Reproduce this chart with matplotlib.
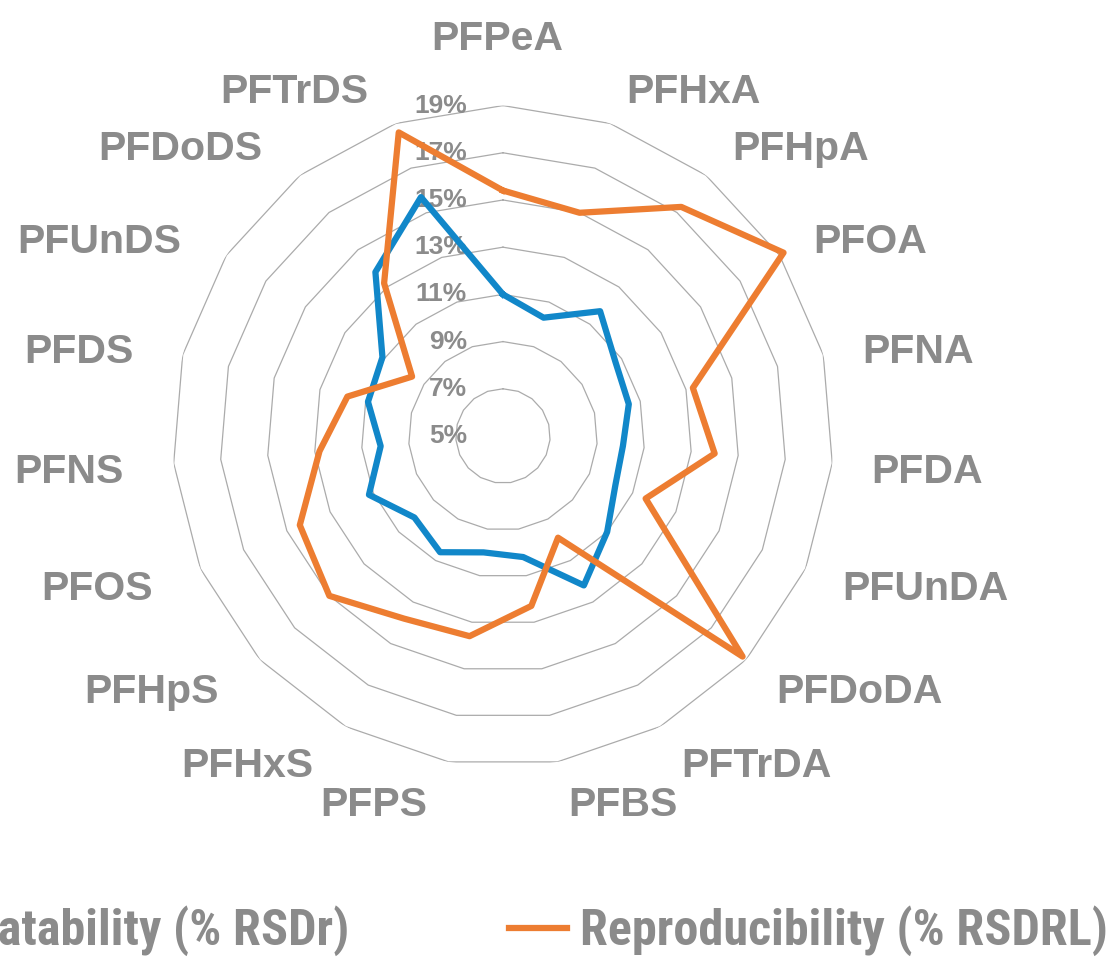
import numpy as np
import matplotlib.pyplot as plt
from matplotlib import font_manager, transforms

# Données (% RSD)
categories = ['PFPeA', 'PFHxA', 'PFHpA', 'PFOA', 'PFNA', 'PFDA', 'PFUnDA', 'PFDoDA',
              'PFTrDA', 'PFBS', 'PFPS', 'PFHxS', 'PFHpS', 'PFOS', 'PFNS', 'PFDS',
              'PFUnDS', 'PFDoDS', 'PFTrDS']
repeatability = [11.0, 10.3, 11.7, 10.7, 10.5, 10.1, 10.2, 11.0, 12.2, 10.2,
                 10.0, 10.6, 10.1, 11.2, 10.2, 10.9, 11.1, 13.8, 15.7]
reproducibility = [15.4, 15.0, 17.3, 19.2, 13.3, 14.0, 11.6, 18.8, 9.9, 12.3,
                   13.6, 13.8, 15.0, 14.4, 12.8, 11.8, 9.6, 13.2, 18.6]
ring_values = [7, 9, 11, 13, 15, 17, 19]
tick_values = [5, 7, 9, 11, 13, 15, 17, 19]
tick_labels = ['5%', '7%', '9%', '11%', '13%', '15%', '17%', '19%']

gray = '#8b8b8b'
blue = '#1187c9'
orange = '#ed7d31'

plt.rcParams['font.family'] = ['Liberation Sans', 'DejaVu Sans']

# Police étroite pour la légende si disponible
legend_fp = None
bold_narrow = []
for f in font_manager.fontManager.ttflist:
    fn = f.fname.lower()
    if ('narrow' in fn or 'condensed' in fn) and str(f.weight) in ('700', 'bold') \
            and f.style == 'normal':
        bold_narrow.append(f)
for pref in ['Liberation Sans Narrow', 'Roboto Condensed', 'Open Sans Condensed',
             'Noto Sans', 'Roboto', 'Open Sans', 'DejaVu Sans']:
    hits = [f for f in bold_narrow if f.name == pref]
    if hits:
        legend_fp = font_manager.FontProperties(fname=hits[0].fname)
        break
if legend_fp is None and bold_narrow:
    legend_fp = font_manager.FontProperties(fname=bold_narrow[0].fname)
if legend_fp is None:
    legend_fp = font_manager.FontProperties(family='Liberation Sans', weight='bold')

n = len(categories)
theta = np.arange(n) * 2 * np.pi / n
theta_closed = np.append(theta, theta[0])

fig = plt.figure(figsize=(11.14, 9.58), dpi=100)
ax = fig.add_axes([0.1549, 0.2, 0.5932, 0.6898], projection='polar')
ax.set_theta_zero_location('N')
ax.set_theta_direction(-1)
ax.set_ylim(5, 19)
ax.set_xticks([])
ax.set_yticks([])
ax.grid(False)
ax.spines['polar'].set_visible(False)

# Grille polygonale
for v in ring_values:
    ax.plot(theta_closed, [v] * (n + 1), color='#ababab', lw=0.9, zorder=1)

# Séries
l1, = ax.plot(theta_closed, repeatability + repeatability[:1], color=blue, lw=4.5,
              zorder=3, clip_on=False, label='Repeatability (% RSDr)')
l2, = ax.plot(theta_closed, reproducibility + reproducibility[:1], color=orange, lw=4.5,
              zorder=4, clip_on=False, label='Reproducibility (% RSDRL)')

# Étiquettes de l'axe radial (sous les courbes)
offset = transforms.ScaledTranslation(-36 / 100, 0, fig.dpi_scale_trans)
for v, lab in zip(tick_values, tick_labels):
    ax.text(0, v, lab, transform=ax.transData + offset, ha='right', va='center',
            fontsize=19, fontweight='bold', color=gray, zorder=2)

# Étiquettes des catégories
label_r = 5 + 365 / 23.6
for th, name in zip(theta, categories):
    s, c = np.sin(th), np.cos(th)
    ha = 'left' if s > 0.05 else ('right' if s < -0.05 else 'center')
    va = 'bottom' if c > 0.6 else ('top' if c < -0.6 else 'center')
    dy = {'bottom': -20, 'top': 10, 'center': -6}[va]
    dx = {'left': 5, 'right': -16, 'center': -6}[ha]
    if ha == 'center':
        dy = 13
    tr = ax.transData + transforms.ScaledTranslation(dx / 100, dy / 100, fig.dpi_scale_trans)
    ax.text(th, label_r, name, ha=ha, va=va, fontsize=29.5, fontweight='bold',
            color=gray, transform=tr)

# Taille de la légende ajustée à la largeur du texte de référence
fig.canvas.draw()
renderer = fig.canvas.get_renderer()
legend_fp.set_size(30)
tmp = fig.text(0, 0, 'Reproducibility (% RSDRL)', fontproperties=legend_fp)
w = tmp.get_window_extent(renderer).width
tmp.remove()
leg_size = 30 * 527 / w
legend_fp.set_size(leg_size)
size_px = leg_size * 100 / 72

leg = fig.legend(handles=[l1, l2], loc='center right',
                 bbox_to_anchor=(1108 / 1114, 1 - 931 / 958), ncol=2, frameon=False,
                 borderpad=0, borderaxespad=0, handlelength=58 / size_px,
                 handletextpad=13 / size_px, columnspacing=160 / size_px,
                 prop=legend_fp)
for t in leg.get_texts():
    t.set_color(gray)

plt.savefig('out.png', dpi=100)
